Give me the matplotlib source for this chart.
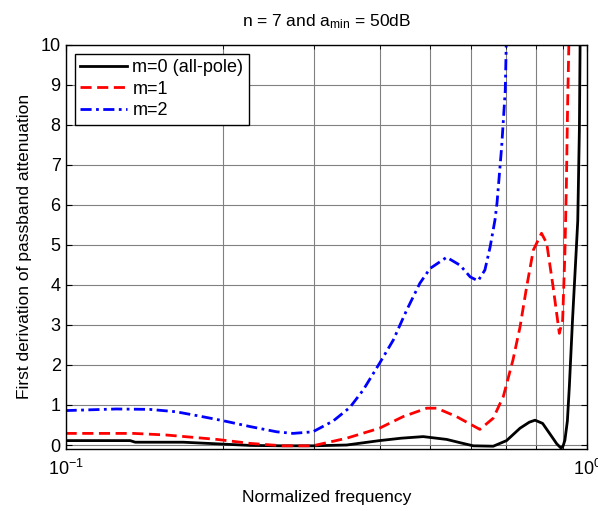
import matplotlib

matplotlib.use("Agg")
import matplotlib.pyplot as plt
from matplotlib.ticker import LogLocator, NullFormatter

plt.rcParams["font.family"] = ["Liberation Sans", "DejaVu Sans"]
plt.rcParams["mathtext.fontset"] = "custom"
plt.rcParams["mathtext.rm"] = "Liberation Sans"
plt.rcParams["mathtext.it"] = "Liberation Sans"

# m=0 (all-pole)
freq_m0 = [0.1, 0.115, 0.133, 0.136, 0.168, 0.195, 0.226, 0.26, 0.298, 0.346, 0.4, 0.44,
           0.485, 0.538, 0.57, 0.605, 0.661, 0.701, 0.744, 0.775, 0.795, 0.822, 0.856,
           0.875, 0.892, 0.9, 0.907, 0.917, 0.925, 0.938, 0.953, 0.96, 0.967, 0.97]
att_m0 = [0.11, 0.11, 0.11, 0.07, 0.07, 0.03, -0.01, -0.02, -0.02, 0.0, 0.11, 0.17,
          0.21, 0.14, 0.06, -0.02, -0.03, 0.11, 0.42, 0.57, 0.62, 0.54, 0.21,
          0.03, -0.08, -0.02, 0.12, 0.6, 1.46, 3.12, 4.8, 5.6, 7.9, 10.0]

# m=1
freq_m1 = [0.1, 0.135, 0.156, 0.195, 0.226, 0.261, 0.298, 0.346, 0.4, 0.444, 0.493, 0.515,
           0.562, 0.623, 0.661, 0.691, 0.721, 0.744, 0.766, 0.789, 0.818, 0.837, 0.861,
           0.885, 0.898, 0.907, 0.913, 0.918, 0.923]
att_m1 = [0.29, 0.29, 0.25, 0.14, 0.04, -0.02, -0.02, 0.17, 0.42, 0.71, 0.92, 0.92,
          0.71, 0.39, 0.67, 1.21, 2.12, 2.95, 3.95, 4.87, 5.29, 5.04, 3.95,
          2.79, 3.12, 4.79, 6.5, 8.5, 10.0]

# m=2
freq_m2 = [0.1, 0.125, 0.145, 0.163, 0.181, 0.2, 0.226, 0.254, 0.273, 0.298, 0.326, 0.351,
           0.372, 0.4, 0.425, 0.451, 0.478, 0.5, 0.538, 0.571, 0.597, 0.618, 0.637, 0.652,
           0.666, 0.672, 0.686, 0.697, 0.70]
att_m2 = [0.86, 0.9, 0.89, 0.83, 0.72, 0.61, 0.46, 0.33, 0.29, 0.33, 0.6, 0.94,
          1.37, 2.04, 2.62, 3.37, 4.04, 4.41, 4.69, 4.49, 4.2, 4.1, 4.37, 4.95,
          5.62, 6.04, 7.45, 8.86, 10.0]

y_ticks = list(range(0, 11))

fig = plt.figure(figsize=(5.98, 5.11), dpi=100)
ax = fig.add_axes([0.1097, 0.1213, 0.8719, 0.7912])

ax.semilogx(freq_m0, att_m0, color="black", linewidth=2, label="m=0 (all-pole)")
ax.semilogx(freq_m1, att_m1, color="red", linewidth=2, linestyle=(0, (4, 2)), label="m=1")
ax.semilogx(freq_m2, att_m2, color="blue", linewidth=2, linestyle=(0, (4, 1.6, 1, 1.6)),
            label="m=2")

ax.set_xlim(0.1, 1)
ax.set_ylim(-0.1, 10)
ax.set_yticks(y_ticks)
ax.xaxis.set_minor_locator(LogLocator(base=10, subs=range(2, 10)))
ax.xaxis.set_minor_formatter(NullFormatter())
ax.grid(True, which="both", color="0.5", linewidth=0.8)
ax.tick_params(which="both", direction="in", top=True, right=True, labelsize=13)
ax.tick_params(which="major", length=4)
ax.tick_params(which="minor", length=3)
ax.tick_params(axis="x", which="major", pad=7)
for s in ax.spines.values():
    s.set_linewidth(1.0)

ax.set_title(r"n = 7 and a$_{\mathrm{min}}$ = 50dB", fontsize=12.5, pad=13)
ax.set_xlabel("Normalized frequency", fontsize=12.5, labelpad=8)
ax.set_ylabel("First derivation of passband attenuation", fontsize=12.5, labelpad=6)

leg = ax.legend(loc="upper left", fontsize=13, fancybox=False, framealpha=1,
                edgecolor="black", handlelength=2.6, borderaxespad=0.5,
                labelspacing=0.25, handletextpad=0.3, borderpad=0.3)
leg.get_frame().set_linewidth(1.0)

fig.savefig("out.png", dpi=100)
